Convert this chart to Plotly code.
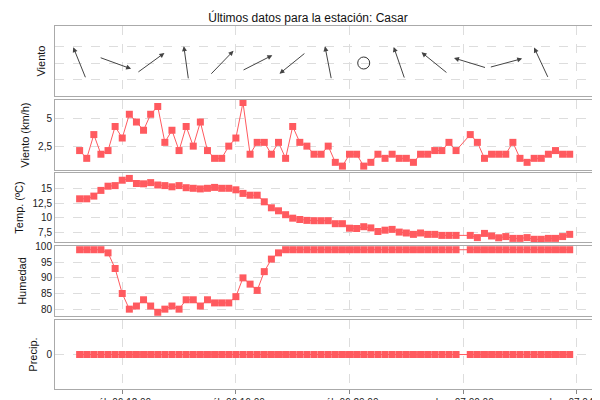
import math
import pandas as pd
import plotly.graph_objects as go
from plotly.subplots import make_subplots

times = pd.date_range("2021-03-06 10:30", "2021-03-07 03:45", freq="15min")
MISSING = 54  # one missing sample near midnight

wind_speed = [2.13,1.43,3.57,1.8,2.13,4.3,3.26,5.4,4.7,3.96,5.4,6.1,2.87,3.96,2.13,4.3,2.53,4.7,2.13,1.43,
              1.43,2.53,3.26,6.46,1.8,2.87,2.87,1.8,2.87,1.43,4.3,2.87,2.53,1.8,1.8,2.53,1.07,0.73,1.8,1.8,
              0.73,1.07,1.8,1.43,1.8,1.43,1.43,1.07,1.8,1.8,2.13,2.13,2.87,2.13,
              3.57,2.87,1.43,1.8,1.8,1.8,2.87,1.43,1.07,1.43,1.43,1.8,2.13,1.8,1.8]
temperature = [13.2,13.2,13.65,14.6,15.3,15.4,16.3,16.6,15.75,15.7,15.9,15.5,15.4,15.2,15.4,15.05,14.95,14.85,14.95,15.1,
               14.95,14.95,14.7,14.1,13.8,13.8,12.7,11.7,11.2,10.55,9.97,9.75,9.6,9.55,9.55,9.55,9.05,9.05,8.3,8.25,
               8.55,8.35,7.75,7.97,8.1,7.65,7.5,7.27,7.5,7.27,7.27,7.1,7.1,7.1,
               7.1,6.73,7.43,7.0,6.7,6.9,6.6,6.6,6.73,6.45,6.45,6.6,6.6,6.9,7.27]
humidity = [99,99,99,99,98,93,85,80,81,83,81,79,80,81,80,83,83,81,83,82,
            82,82,84,90,88,86,92,96,98] + [99]*25 + [99]*15
precip = [0]*69
# wind direction (bearing the arrow points to, degrees) every 5th sample; None = calm
wind_dir_idx = [0,5,10,15,20,25,30,35,40,45,50,55,60,65]
wind_dir = [338,110,54,352,44,63,231,349,None,341,309,287,75,335]

tick_vals = ["2021-03-06 12:00","2021-03-06 16:00","2021-03-06 20:00","2021-03-07 00:00","2021-03-07 04:00"]
tick_text = ["sáb 06 12:00","sáb 06 16:00","sáb 06 20:00","dom 07 00:00","dom 07 04:00"]

def with_gap(vals):
    v = list(vals)
    v.insert(MISSING, None)
    return v

RED = "#ff5a5f"
fig = make_subplots(rows=5, cols=1, shared_xaxes=True)
doms = [[0.807,1.0],[0.603,0.796],[0.405,0.595],[0.201,0.394],[0.0,0.19]]
series = [None, wind_speed, temperature, humidity, precip]
for r, s in enumerate(series, start=1):
    if s is None:
        continue
    fig.add_trace(go.Scatter(x=times, y=with_gap(s), mode="lines+markers", connectgaps=True,
                             line=dict(color=RED, width=1),
                             marker=dict(symbol="square", size=7, color=RED)), row=r, col=1)

PXH = 28.4  # px per hour
PXU = 16.5  # px per y unit
L = 34
for i, d in zip(wind_dir_idx, wind_dir):
    t = times[i]
    if d is None:
        fig.add_trace(go.Scatter(x=[t], y=[2], mode="markers",
                                 marker=dict(symbol="circle-open", size=12, color="#333", line=dict(width=1))),
                      row=1, col=1)
        continue
    dx = math.sin(math.radians(d)) * L / 2
    dy = math.cos(math.radians(d)) * L / 2
    hx = t + pd.Timedelta(hours=dx / PXH)
    hy = 2 + dy / PXU
    fig.add_annotation(x=hx, y=hy, xref="x", yref="y", ax=-2 * dx, ay=2 * dy,
                       showarrow=True, arrowhead=2, arrowsize=1, arrowwidth=1, arrowcolor="#444", text="")

ax_common = dict(showline=True, linecolor="#aaaaaa", mirror=True, showgrid=True,
                 gridcolor="#dddddd", griddash="dash", zeroline=False, automargin=False,
                 tickfont=dict(size=10, color="#222"))
for r in range(1, 6):
    xa = "xaxis" if r == 1 else f"xaxis{r}"
    ya = "yaxis" if r == 1 else f"yaxis{r}"
    fig.layout[xa].update(**ax_common, range=["2021-03-06 09:38", "2021-03-07 04:49"],
                          tickvals=tick_vals, ticktext=tick_text, showticklabels=(r == 5),
                          ticks="outside" if r == 5 else "", ticklen=4, tickcolor="#888")
    fig.layout[ya].update(**ax_common, domain=doms[r - 1], ticks="", title_standoff=6,
                          title_font=dict(size=11, color="#111"))

fig.layout.yaxis.update(range=[0, 4.24], tickvals=[1, 2, 3], showticklabels=False, title_text="Viento")
fig.layout.yaxis2.update(range=[0.37, 6.68], tickvals=[2.5, 5], title_text="Viento (km/h)")
fig.layout.yaxis3.update(range=[6.0, 17.5], tickvals=[7.5, 10, 12.5, 15], title_text="Temp. (ºC)")
fig.layout.yaxis4.update(range=[77.8, 100.2], tickvals=[80, 85, 90, 95, 100], title_text="Humedad")
fig.layout.yaxis5.update(range=[-1, 1], tickvals=[0], title_text="Precip.")

fig.update_layout(width=600, height=400, margin=dict(l=47, r=8, t=18, b=19),
                  plot_bgcolor="white", paper_bgcolor="white", showlegend=False,
                  separators=",.", font=dict(family="Liberation Sans, Arial", color="#111"),
                  title=dict(text="Últimos datos para la estación: Casar", x=0.5, xanchor="center",
                             y=0.985, yanchor="top", font=dict(size=12)))
fig.write_html("out.html")
